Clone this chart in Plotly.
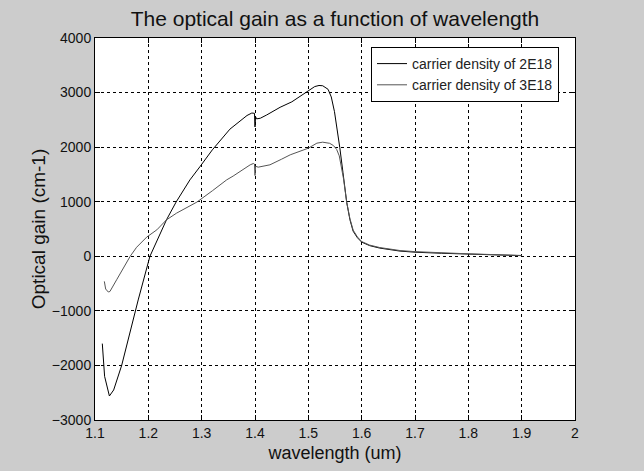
import plotly.graph_objects as go

# wavelength (um) and optical gain (cm-1)
wl_2e18 = [1.1137, 1.118, 1.127, 1.135, 1.150, 1.165, 1.181, 1.203, 1.234, 1.252, 1.278,
           1.297, 1.32, 1.353, 1.37, 1.385, 1.394, 1.399, 1.400, 1.401, 1.403, 1.41,
           1.422, 1.447, 1.469, 1.485, 1.5, 1.512, 1.52, 1.527, 1.537, 1.543, 1.549,
           1.554, 1.559, 1.565, 1.572, 1.578, 1.584, 1.592, 1.6, 1.615, 1.634, 1.672,
           1.7, 1.75, 1.8, 1.85, 1.9]
gain_2e18 = [-1600, -2200, -2560, -2450, -2000, -1400, -800, 0, 668, 993, 1400,
             1645, 1950, 2330, 2470, 2580, 2625, 2620, 2370, 2560, 2518, 2530,
             2590, 2730, 2830, 2930, 3035, 3110, 3130, 3125, 3060, 2920, 2650,
             2330, 1990, 1530, 985, 670, 460, 340, 260, 195, 150, 95,
             75, 55, 40, 25, 12]

wl_3e18 = [1.1175, 1.12, 1.125, 1.128, 1.1406, 1.153, 1.166, 1.178, 1.197, 1.216,
           1.234, 1.253, 1.291, 1.32, 1.347, 1.359, 1.375, 1.391, 1.397, 1.399,
           1.400, 1.401, 1.406, 1.428, 1.45, 1.466, 1.5, 1.516, 1.527, 1.54,
           1.547, 1.553, 1.558, 1.562, 1.566, 1.572, 1.578, 1.584, 1.592, 1.6,
           1.615, 1.634, 1.672, 1.7, 1.75, 1.8, 1.85, 1.9]
gain_3e18 = [-460, -600, -655, -645, -430, -216, 0, 165, 352, 485,
             668, 791, 993, 1200, 1401, 1470, 1580, 1676, 1700, 1690,
             1480, 1650, 1633, 1676, 1780, 1859, 1981, 2073, 2091, 2070,
             2030, 1960, 1840, 1650, 1420, 990, 690, 480, 355, 270,
             205, 160, 105, 85, 60, 45, 30, 15]

x_ticks = [1.1, 1.2, 1.3, 1.4, 1.5, 1.6, 1.7, 1.8, 1.9, 2.0]
x_tick_text = ["1.1", "1.2", "1.3", "1.4", "1.5", "1.6", "1.7", "1.8", "1.9", "2"]
y_ticks = [-3000, -2000, -1000, 0, 1000, 2000, 3000, 4000]

FONT = "Liberation Sans, Arial, sans-serif"

fig = go.Figure()
fig.add_trace(go.Scatter(x=wl_2e18, y=gain_2e18, mode="lines",
                         name="carrier density of 2E18",
                         line=dict(color="#000000", width=1)))
fig.add_trace(go.Scatter(x=wl_3e18, y=gain_3e18, mode="lines",
                         name="carrier density of 3E18",
                         line=dict(color="#555555", width=1)))

axis_common = dict(showline=True, linecolor="black", linewidth=1, mirror="ticks",
                   ticks="inside", ticklen=5, tickcolor="black",
                   showgrid=True, gridcolor="black", gridwidth=1, griddash="3px,3px",
                   zeroline=False, tickfont=dict(family=FONT, size=14, color="#111111"))

fig.update_layout(
    width=644, height=471,
    paper_bgcolor="#cccccc", plot_bgcolor="white",
    margin=dict(l=95, r=69, t=38, b=51),
    title=dict(text="The optical gain as a function of wavelength",
               x=(95 + 575) / 2 / 644, xanchor="center",
               y=1 - 19 / 471, yanchor="middle",
               font=dict(family=FONT, size=21, color="#111111")),
    xaxis=dict(range=[1.1, 2.0], tickvals=x_ticks, ticktext=x_tick_text,
               title=dict(text="wavelength (um)", standoff=6,
                          font=dict(family=FONT, size=18, color="#111111")),
               **axis_common),
    yaxis=dict(range=[-3000, 4000], tickvals=y_ticks,
               title=dict(text="Optical gain (cm-1)", standoff=1,
                          font=dict(family=FONT, size=19, color="#111111")),
               **axis_common),
    legend=dict(x=(371 - 95) / 480, y=1 - 9 / 382, xanchor="left", yanchor="top",
                bgcolor="white", bordercolor="black", borderwidth=1,
                font=dict(family=FONT, size=14, color="#222222"),
                tracegroupgap=0, itemwidth=30),
    showlegend=True,
)

fig.write_html("out.html")
